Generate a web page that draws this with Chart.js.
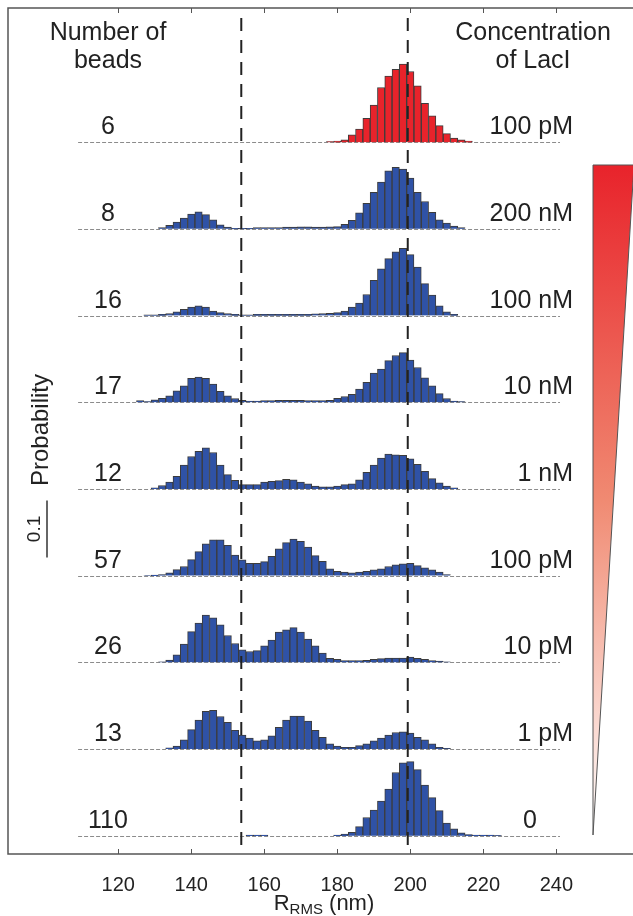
<!DOCTYPE html>
<html>
<head>
<meta charset="utf-8">
<script src="https://cdn.jsdelivr.net/npm/chart.js@4.4.1/dist/chart.umd.min.js"></script>
<style>
  html, body { margin: 0; padding: 0; background: #fff; }
  #wrap { width: 633px; height: 916px; position: relative; }
</style>
</head>
<body>
<div id="wrap"><canvas id="histChart"></canvas></div>
<script>
// bin centres (nm), 2 nm wide
const BIN_CENTERS = [
  110, 112, 114, 116, 118, 120, 122, 124, 126, 128,
  130, 132, 134, 136, 138, 140, 142, 144, 146, 148,
  150, 152, 154, 156, 158, 160, 162, 164, 166, 168,
  170, 172, 174, 176, 178, 180, 182, 184, 186, 188,
  190, 192, 194, 196, 198, 200, 202, 204, 206, 208,
  210, 212, 214, 216, 218, 220, 222, 224, 226, 228,
  230, 232, 234, 236, 238, 240
];
const TICK_VALUES = [120, 140, 160, 180, 200, 220, 240];
const GUIDE_LINES = [153.7, 199.3];
const BEADS = ['6', '8', '16', '17', '12', '57', '26', '13', '110'];
const CONCENTRATIONS = ['100 pM', '200 nM', '100 nM', '10 nM', '1 nM', '100 pM', '10 pM', '1 pM', '0'];

// probability per bin, one array per row (top to bottom)
const P_REF_100PM = [
  0, 0, 0, 0, 0, 0, 0, 0, 0, 0,
  0, 0, 0, 0, 0, 0, 0, 0, 0, 0,
  0, 0, 0, 0, 0, 0, 0, 0, 0, 0,
  0, 0, 0, 0, .001, .002, .004, .013, .023, .042,
  .065, .096, .116, .128, .137, .124, .099, .068, .046, .029,
  .015, .007, .004, .002, 0, 0, 0, 0, 0, 0,
  0, 0, 0, 0, 0, 0
];
const P_200NM = [
  0, 0, 0, 0, 0, 0, 0, 0, 0, 0,
  0, .002, .006, .012, .019, .026, .030, .025, .016, .007,
  .003, .001, .001, .001, .002, .002, .002, .002, .003, .003,
  .0035, .0035, .003, .003, .0035, .004, .008, .015, .028, .045,
  .064, .082, .102, .108, .105, .089, .064, .048, .029, .016,
  .010, .005, .002, 0, 0, 0, 0, 0, 0, 0,
  0, 0, 0, 0, 0, 0
];
const P_100NM = [
  0, 0, 0, 0, 0, 0, 0, 0, 0, .001,
  .001, .002, .0035, .0065, .011, .015, .017, .015, .008, .005,
  .0035, .002, .001, .001, .002, .002, .002, .002, .002, .002,
  .002, .002, .003, .0035, .004, .005, .008, .015, .022, .037,
  .062, .082, .100, .112, .118, .107, .085, .056, .036, .017,
  .0065, .002, 0, 0, 0, 0, 0, 0, 0, 0,
  0, 0, 0, 0, 0, 0
];
const P_10NM = [
  0, 0, 0, 0, 0, 0, 0, 0, .003, .001,
  .004, .007, .011, .020, .029, .042, .044, .042, .032, .019,
  .011, .0065, .0035, .002, .002, .003, .003, .0035, .0035, .0035,
  .0035, .003, .003, .003, .0035, .007, .010, .014, .023, .035,
  .051, .058, .073, .082, .087, .074, .061, .043, .029, .015,
  .0065, .002, .001, 0, 0, 0, 0, 0, 0, 0,
  0, 0, 0, 0, 0, 0
];
const P_1NM = [
  0, 0, 0, 0, 0, 0, 0, 0, 0, 0,
  .002, .006, .012, .022, .042, .057, .066, .072, .064, .042,
  .025, .015, .0075, .0075, .0075, .012, .0135, .0145, .017, .016,
  .012, .009, .005, .0035, .0035, .005, .0075, .009, .016, .029,
  .042, .054, .061, .060, .059, .053, .043, .031, .018, .0105,
  .005, .002, 0, 0, 0, 0, 0, 0, 0, 0,
  0, 0, 0, 0, 0, 0
];
const P_100PM = [
  0, 0, 0, 0, 0, 0, 0, 0, 0, .0005,
  .001, .002, .005, .0105, .016, .028, .042, .056, .063, .063,
  .053, .036, .0275, .0215, .0215, .0245, .034, .047, .058, .064,
  .060, .050, .035, .025, .012, .0075, .006, .005, .006, .0075,
  .010, .012, .016, .019, .0205, .0215, .0175, .0135, .010, .006,
  .002, 0, 0, 0, 0, 0, 0, 0, 0, 0,
  0, 0, 0, 0, 0, 0
];
const P_10PM = [
  0, 0, 0, 0, 0, 0, 0, 0, 0, 0,
  0, .001, .004, .013, .032, .054, .069, .083, .078, .066,
  .047, .033, .022, .019, .0205, .029, .039, .053, .057, .061,
  .053, .041, .029, .016, .007, .005, .003, .003, .003, .0035,
  .005, .0065, .0075, .0075, .0075, .009, .007, .005, .003, .002,
  .001, 0, 0, 0, 0, 0, 0, 0, 0, 0,
  0, 0, 0, 0, 0, 0
];
const P_1PM = [
  0, 0, 0, 0, 0, 0, 0, 0, 0, 0,
  0, 0, .002, .005, .016, .034, .051, .066, .068, .057,
  .047, .033, .0245, .019, .0145, .016, .023, .038, .051, .058,
  .058, .049, .033, .0205, .009, .005, .003, .003, .006, .009,
  .0145, .019, .0245, .029, .030, .028, .0205, .016, .009, .003,
  .001, 0, 0, 0, 0, 0, 0, 0, 0, 0,
  0, 0, 0, 0, 0, 0
];
const P_0 = [
  0, 0, 0, 0, 0, 0, 0, 0, 0, 0,
  0, 0, 0, 0, 0, 0, 0, 0, 0, 0,
  0, 0, 0, .001, .001, .001, 0, 0, 0, 0,
  0, 0, 0, 0, 0, .001, .003, .006, .016, .032,
  .045, .061, .082, .111, .128, .130, .116, .089, .067, .044,
  .022, .012, .005, .002, .001, .001, .001, .0005, 0, 0,
  0, 0, 0, 0, 0, 0
];

const ROWS = [P_REF_100PM, P_200NM, P_100NM, P_10NM, P_1NM, P_100PM, P_10PM, P_1PM, P_0];

const FONT = '"Liberation Sans", Arial, sans-serif';
const TEXT = '#222';
// vertical offset of each histogram, in probability units
const ROW_TOP = 1.2504, ROW_STEP = 0.15228;
function rowBase(i) { return ROW_TOP - ROW_STEP * i; }

const datasets = ROWS.map((vals, i) => ({
  type: 'bar',
  data: BIN_CENTERS.map((x, j) => ({ x: x, y: [rowBase(i), rowBase(i) + vals[j]] }))
    .filter((d, j) => vals[j] > 0),
  backgroundColor: i === 0 ? '#e8232b' : '#2f52a6',
  borderColor: '#3c3c3c',
  borderWidth: 1,
  grouped: false,
  barPercentage: 1,
  categoryPercentage: 1
}));

const decor = {
  id: 'decor',
  beforeDatasetsDraw(chart) {
    const { ctx, scales: { x, y } } = chart;
    const x0 = x.getPixelForValue(BIN_CENTERS[0] - 1);
    const x1 = x.getPixelForValue(BIN_CENTERS[BIN_CENTERS.length - 1] + 1);
    ctx.save();
    ctx.strokeStyle = '#8c8c8c';
    ctx.lineWidth = 1;
    ctx.setLineDash([4, 2]);
    ROWS.forEach((r, i) => {
      const py = Math.round(y.getPixelForValue(rowBase(i))) + 0.5;
      ctx.beginPath(); ctx.moveTo(x0, py); ctx.lineTo(x1, py); ctx.stroke();
    });
    ctx.restore();
  },
  afterDatasetsDraw(chart) {
    const { ctx, chartArea: a, scales: { x, y } } = chart;
    ctx.save();

    // vertical guide lines
    ctx.strokeStyle = '#222';
    ctx.lineWidth = 2;
    ctx.setLineDash([13, 9]);
    GUIDE_LINES.forEach(v => {
      const px = x.getPixelForValue(v);
      ctx.beginPath(); ctx.moveTo(px, 18); ctx.lineTo(px, a.bottom); ctx.stroke();
    });
    ctx.setLineDash([]);

    // frame + inward ticks
    ctx.strokeStyle = '#555';
    ctx.lineWidth = 1.5;
    ctx.beginPath();
    ctx.moveTo(a.right, a.top); ctx.lineTo(a.left, a.top);
    ctx.lineTo(a.left, a.bottom); ctx.lineTo(a.right, a.bottom);
    ctx.stroke();
    ctx.lineWidth = 1;
    TICK_VALUES.forEach(v => {
      const px = Math.round(x.getPixelForValue(v)) + 0.5;
      ctx.beginPath();
      ctx.moveTo(px, a.top); ctx.lineTo(px, a.top + 5);
      ctx.moveTo(px, a.bottom); ctx.lineTo(px, a.bottom - 5);
      ctx.stroke();
    });

    // concentration wedge
    const grad = ctx.createLinearGradient(0, 165, 0, 835);
    grad.addColorStop(0, '#e8232b');
    grad.addColorStop(0.5, '#f08a72');
    grad.addColorStop(1, '#ffffff');
    ctx.fillStyle = grad;
    ctx.strokeStyle = '#555';
    ctx.beginPath();
    ctx.moveTo(593, 165); ctx.lineTo(634, 165); ctx.lineTo(593, 835); ctx.closePath();
    ctx.fill(); ctx.stroke();

    // row labels
    ctx.fillStyle = TEXT;
    ctx.font = '25px ' + FONT;
    ctx.textBaseline = 'alphabetic';
    ROWS.forEach((r, i) => {
      const py = y.getPixelForValue(rowBase(i)) - 8;
      ctx.textAlign = 'center';
      ctx.fillText(BEADS[i], 108, py);
      if (CONCENTRATIONS[i] === '0') {
        ctx.fillText(CONCENTRATIONS[i], 530, py);
      } else {
        ctx.textAlign = 'right';
        ctx.fillText(CONCENTRATIONS[i], 573, py);
      }
    });

    // headers
    ctx.textAlign = 'center';
    ctx.fillText('Number of', 108, 40);
    ctx.fillText('beads', 108, 68);
    ctx.fillText('Concentration', 533, 40);
    ctx.fillText('of LacI', 533, 68);

    // probability scale bar
    const yb0 = y.getPixelForValue(0.521), yb1 = y.getPixelForValue(0.621);
    ctx.strokeStyle = '#333';
    ctx.lineWidth = 1.5;
    ctx.beginPath(); ctx.moveTo(47, yb0); ctx.lineTo(47, yb1); ctx.stroke();

    ctx.save();
    ctx.translate(41, 430);
    ctx.rotate(-Math.PI / 2);
    ctx.textBaseline = 'middle';
    ctx.font = '24px ' + FONT;
    ctx.fillText('Probability', 0, 0);
    ctx.restore();
    ctx.save();
    ctx.translate(35, (yb0 + yb1) / 2);
    ctx.rotate(-Math.PI / 2);
    ctx.textBaseline = 'middle';
    ctx.font = '19px ' + FONT;
    ctx.fillText('0.1', 0, 0);
    ctx.restore();

    // axis title R_RMS (nm)
    const big = '22px ' + FONT, small = '15px ' + FONT;
    ctx.font = big; const wR = ctx.measureText('R').width;
    const wN = ctx.measureText(' (nm)').width;
    ctx.font = small; const wS = ctx.measureText('RMS').width;
    let tx = 324 - (wR + wS + wN) / 2;
    const ty = 910;
    ctx.textAlign = 'left';
    ctx.font = big; ctx.fillText('R', tx, ty); tx += wR;
    ctx.font = small; ctx.fillText('RMS', tx, ty + 4); tx += wS;
    ctx.font = big; ctx.fillText(' (nm)', tx, ty);

    ctx.restore();
  }
};

new Chart(document.getElementById('histChart'), {
  type: 'bar',
  data: { datasets: datasets },
  options: {
    responsive: true,
    maintainAspectRatio: false,
    animation: false,
    layout: { padding: { left: 8, top: 8, right: 0, bottom: 0 } },
    plugins: { legend: { display: false }, tooltip: { enabled: false } },
    scales: {
      x: {
        type: 'linear',
        min: 89.8,
        max: 261,
        offset: false,
        grid: { display: false, drawTicks: false },
        border: { display: false },
        afterBuildTicks: s => { s.ticks = TICK_VALUES.map(v => ({ value: v })); },
        ticks: {
          font: { family: FONT, size: 20 },
          color: TEXT,
          padding: 19,
          maxRotation: 0,
          autoSkip: false
        }
      },
      y: { display: false, min: 0, max: 1.486 }
    }
  },
  plugins: [decor]
});
</script>
</body>
</html>
